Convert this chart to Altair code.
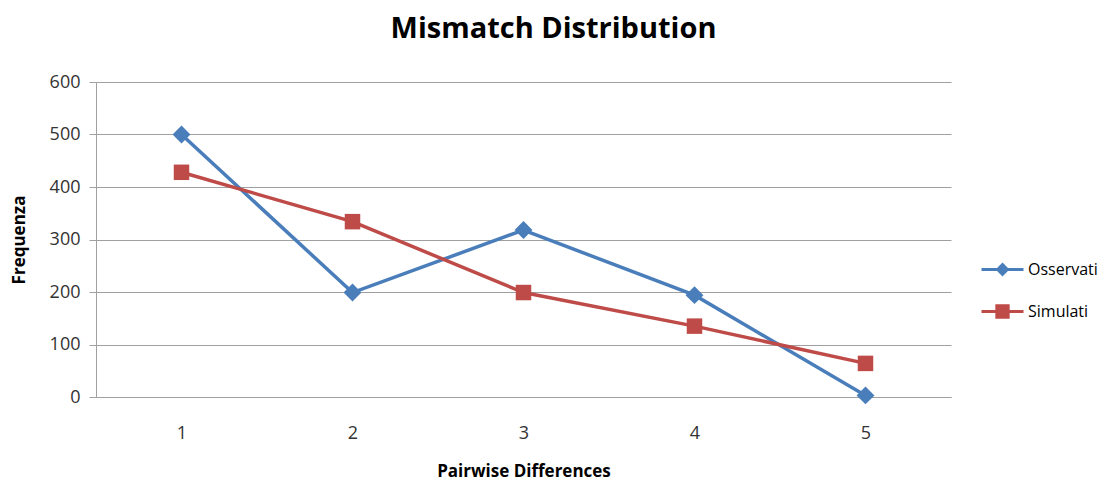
import altair as alt
import pandas as pd

categories = ["1", "2", "3", "4", "5"]
osservati = [500, 199, 318, 194, 3]
simulati = [428, 334, 199, 135, 64]
series_names = ["Osservati", "Simulati"]
colors = ["#4A7EBB", "#BE4B48"]

rows = []
for name, vals in zip(series_names, [osservati, simulati]):
    for c, v in zip(categories, vals):
        rows.append({"cat": c, "val": v, "serie": name})
df = pd.DataFrame(rows)

FONT = "Open Sans"

x = alt.X("cat:O", sort=categories,
          scale=alt.Scale(type="point", padding=0.5),
          axis=alt.Axis(title="Pairwise Differences", labelAngle=0, ticks=False, tickSize=0,
                        labelPadding=27, titlePadding=21, domainColor="#A0A0A0",
                        labelFontSize=18, titleFontSize=17, titleFontWeight="bold",
                        labelColor="#333333", titleColor="#000000", grid=False,
                        labelFont=FONT, titleFont=FONT))
y = alt.Y("val:Q", scale=alt.Scale(domain=[0, 600], nice=False),
          axis=alt.Axis(title="Frequenza", values=[0, 100, 200, 300, 400, 500, 600],
                        tickSize=7, tickColor="#A0A0A0", labelPadding=9, titlePadding=21,
                        domainColor="#A0A0A0", gridColor="#A0A0A0", labelFontSize=18,
                        titleFontSize=17, titleFontWeight="bold", labelColor="#333333",
                        titleColor="#000000", labelFont=FONT, titleFont=FONT))

color_scale = alt.Scale(domain=series_names, range=colors)

base = alt.Chart(df)
lines = base.mark_line(strokeWidth=3.5).encode(
    x=x, y=y, color=alt.Color("serie:N", scale=color_scale, legend=None))
points = base.mark_point(filled=True, opacity=1).encode(
    x=x, y=y,
    color=alt.Color("serie:N", scale=color_scale, legend=None),
    shape=alt.Shape("serie:N", scale=alt.Scale(domain=series_names, range=["diamond", "square"]), legend=None),
    size=alt.Size("serie:N", scale=alt.Scale(domain=series_names, range=[320, 240]), legend=None))

common = dict(title=None, orient="none", legendX=884, symbolSize=1764, symbolStrokeWidth=3,
              labelFontSize=16, labelFont=FONT, labelColor="#000000", labelOffset=3, padding=0)

legend_a = base.transform_filter("false").mark_point(filled=True, opacity=1).encode(
    x=x, y=y,
    fill=alt.Fill("serie:N", scale=alt.Scale(domain=["Osservati"], range=[colors[0]]),
                  legend=alt.Legend(legendY=165,
                                    symbolType="M-1,0H1M0,-0.23L0.23,0L0,0.23L-0.23,0Z",
                                    symbolStrokeColor=colors[0], **common)))
legend_b = base.transform_filter("false").mark_point(filled=True, opacity=1, color=colors[1]).encode(
    x=x, y=y,
    stroke=alt.Stroke("serie:N", scale=alt.Scale(domain=["Simulati"], range=[colors[1]]),
                      legend=alt.Legend(legendY=207,
                                        symbolType="M-1,0H1M-0.27,-0.27H0.27V0.27H-0.27Z",
                                        symbolFillColor=colors[1], **common)))

chart = alt.layer(lines, points, legend_a, legend_b).properties(
    width=855, height=315,
    title=alt.TitleParams("Mismatch Distribution", fontSize=29, font=FONT, fontWeight="bold",
                          color="#000000", anchor="middle", dx=30, offset=29),
    autosize=alt.AutoSizeParams(type="none"),
    padding={"left": 88, "top": 74, "right": 147, "bottom": 83},
).configure_view(stroke=None).configure_axis(gridWidth=1)

chart.save("out.html", embed_options={"renderer": "svg", "actions": False})
